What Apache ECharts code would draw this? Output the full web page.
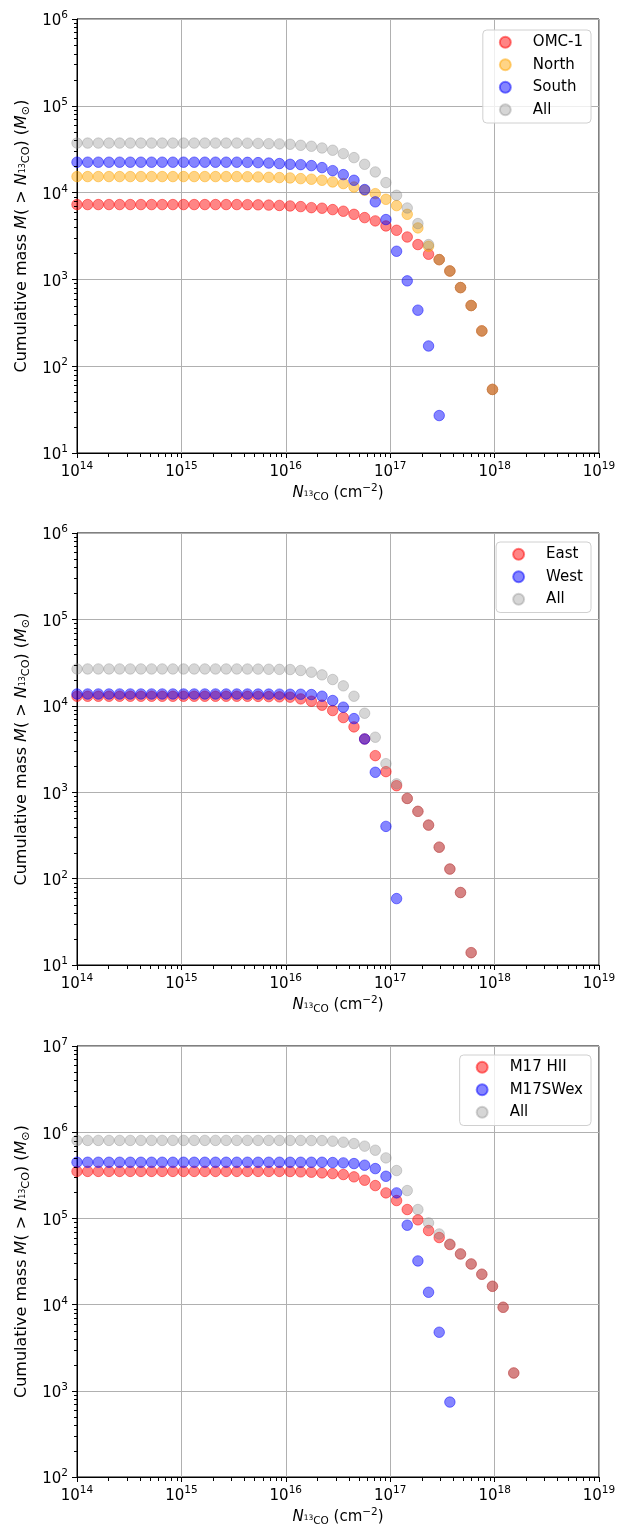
<!DOCTYPE html>
<html><head><meta charset="utf-8">
<script src="https://cdn.jsdelivr.net/npm/echarts/dist/echarts.min.js"></script>
<style>html,body{margin:0;padding:0;background:#fff}#c{width:625px;height:1530px}</style>
</head><body><div id="c"></div><script>
// Column density sampling (cm^-2), log-spaced from 1e14 to 1e19
const columnDensity = [
  1.000e14, 1.265e14, 1.600e14, 2.024e14, 2.560e14, 3.237e14, 4.095e14, 5.179e14, 6.551e14, 8.286e14,
  1.048e15, 1.326e15, 1.677e15, 2.121e15, 2.683e15, 3.393e15, 4.292e15, 5.429e15, 6.866e15, 8.685e15,
  1.099e16, 1.389e16, 1.758e16, 2.223e16, 2.812e16, 3.556e16, 4.498e16, 5.690e16, 7.197e16, 9.103e16,
  1.151e17, 1.456e17, 1.842e17, 2.330e17, 2.947e17, 3.728e17, 4.715e17, 5.964e17, 7.543e17, 9.541e17,
  1.207e18, 1.526e18
];

// Panel 1: Orion (M_sun)
const massOMC1 = [7280,7280,7280,7280,7280,7280,7280,7280,7280,7280,7280,7280,7280,7280,7280,7280,7260,7230,7180,7110,
  7020,6900,6710,6610,6370,6100,5620,5150,4720,4130,3680,3080,2520,1950,1690,1250,805,500,255,54];
const massNorth = [15300,15300,15300,15300,15300,15300,15300,15300,15300,15300,15300,15300,15300,15300,15300,15300,15250,15150,15000,14900,
  14760,14490,14260,13870,13270,12700,11610,10640,9730,8370,7080,5620,3920,2410,1690,1250,805,500,255,54];
const massSouth = [22400,22400,22400,22400,22400,22400,22400,22400,22400,22400,22400,22400,22400,22400,22400,22400,22300,22150,21900,21600,
  21180,20990,20460,19410,17910,16110,13870,10840,7820,4890,2110,962,442,171,27];
const massAll1 = [37200,37200,37200,37200,37200,37200,37200,37200,37200,37200,37200,37200,37200,37200,37200,37200,37100,36900,36600,36400,
  36060,35080,34200,32660,30760,28120,25290,21180,17300,13030,9310,6650,4400,2520,1690,1250,805,500,255,54];

// Panel 2
const massEast = [12900,12900,12900,12900,12900,12900,12900,12900,12900,12900,12900,12900,12900,12900,12900,12900,12880,12850,12780,12700,
  12590,12020,11300,10160,8810,7310,5700,4130,2650,1730,1190,847,600,416,231,129,69,13.9];
const massWest = [13700,13700,13700,13700,13700,13700,13700,13700,13700,13700,13700,13700,13700,13700,13700,13700,13690,13680,13660,13640,
  13610,13610,13490,12910,11510,9640,7110,4130,1700,402,58.7];
const massAll2 = [26700,26700,26700,26700,26700,26700,26700,26700,26700,26700,26700,26700,26700,26700,26700,26700,26650,26600,26500,26400,
  26300,25640,24490,22800,20140,17020,12910,8200,4330,2140,1250,847,600,416,231,129,69,13.9];

// Panel 3: M17
const massHII = [351000,351000,351000,351000,351000,351000,351000,351000,351000,351000,351000,351000,351000,351000,351000,351000,351000,351000,351000,351000,
  350000,346700,343600,337300,331100,322800,303400,277300,240400,197700,161100,126800,96200,72300,60000,49700,38700,29600,22500,16300,9310,1610];
const massSWex = [448000,448000,448000,448000,448000,448000,448000,448000,448000,448000,448000,448000,448000,448000,448000,448000,448000,448000,448000,448000,
  448000,448000,448000,448000,444600,440600,432500,414000,378400,308300,197700,83400,32100,13900,4780,740];
const massAll3 = [803000,803000,803000,803000,803000,803000,803000,803000,803000,803000,803000,803000,803000,803000,803000,803000,803000,803000,803000,803000,
  803000,803000,800000,800000,787000,765600,738000,688700,618000,503500,358900,210400,126800,88700,66000,50400,38700,29600,22500,16300,9310,1610];

const F = 'DejaVu Sans';
const RED = 'rgba(255,0,0,0.6)', ORANGE = 'rgba(255,165,0,0.6)', BLUE = 'rgba(0,0,255,0.6)', GRAY = 'rgba(128,128,128,0.4)';

const panels = [
  {top: 19, height: 434, yMin: 1, yMax: 6, legendTop: 30,
   series: [['OMC-1', massOMC1, RED], ['North', massNorth, ORANGE], ['South', massSouth, BLUE], ['All', massAll1, GRAY]]},
  {top: 533, height: 432, yMin: 1, yMax: 6, legendTop: 542,
   series: [['East', massEast, RED], ['West', massWest, BLUE], ['All', massAll2, GRAY]]},
  {top: 1046, height: 431, yMin: 2, yMax: 7, legendTop: 1055,
   series: [['M17 HII', massHII, RED], ['M17SWex', massSWex, BLUE], ['All', massAll3, GRAY]]}
];

function powLabel(v) {
  const e = Math.round(Math.log10(v));
  return '{b|10}{s|' + e + '}';
}
const labelRich = {
  b: {fontSize: 15, fontFamily: F, color: '#000', padding: [5, 0, 0, 0]},
  s: {fontSize: 10.5, fontFamily: F, color: '#000', padding: [0, 0, 7, 0]}
};
const xNameRich = {
  it: {fontSize: 15, fontFamily: F, fontStyle: 'italic', color: '#000'},
  sub: {fontSize: 10.5, fontFamily: F, color: '#000', padding: [8, 0, 0, 0]},
  ss: {fontSize: 7.5, fontFamily: F, color: '#000', padding: [2, 0, 0, 0]},
  sup: {fontSize: 10.5, fontFamily: F, color: '#000', padding: [0, 0, 9, 0]}
};
const yNameRich = {
  it: {fontSize: 16, fontFamily: F, fontStyle: 'italic', color: '#000'},
  sub: {fontSize: 11.2, fontFamily: F, color: '#000', padding: [8, 0, 0, 0]},
  ss: {fontSize: 8, fontFamily: F, color: '#000', padding: [2, 0, 0, 0]}
};

const grid = [], xAxis = [], yAxis = [], series = [], legend = [];
panels.forEach((p, i) => {
  grid.push({left: 77, top: p.top, width: 522, height: p.height, show: true, borderColor: '#000', borderWidth: 1, backgroundColor: 'transparent'});
  xAxis.push({
    type: 'log', logBase: 10, gridIndex: i, min: 1e14, max: 1e19, splitNumber: 5,
    axisLine: {show: true, lineStyle: {color: '#000', width: 1}},
    axisTick: {show: true, inside: false, length: 5, lineStyle: {color: '#000', width: 1}},
    axisLabel: {formatter: powLabel, margin: 7, rich: labelRich, showMinLabel: true, showMaxLabel: true},
    splitLine: {show: true, lineStyle: {color: '#b0b0b0', width: 1}},
    name: '{it|N}{ss|13}{sub|CO} (cm{sup|\u22122})', nameLocation: 'middle', nameGap: 30,
    nameTextStyle: {fontSize: 15, fontFamily: F, color: '#000', rich: xNameRich}
  });
  yAxis.push({
    type: 'log', logBase: 10, gridIndex: i, min: Math.pow(10, p.yMin), max: Math.pow(10, p.yMax), splitNumber: 5,
    axisLine: {show: true, lineStyle: {color: '#000', width: 1}},
    axisTick: {show: true, inside: false, length: 5, lineStyle: {color: '#000', width: 1}},
    axisLabel: {formatter: powLabel, margin: 9, rich: labelRich, showMinLabel: true, showMaxLabel: true},
    splitLine: {show: true, lineStyle: {color: '#b0b0b0', width: 1}},
    name: 'Cumulative mass {it|M}( > {it|N}{ss|13}{sub|CO}) ({it|M}{sub|\u2299})',
    nameLocation: 'middle', nameRotate: 90, nameGap: 44,
    nameTextStyle: {fontSize: 16, fontFamily: F, color: '#000', rich: yNameRich}
  });
  p.series.forEach(s => {
    series.push({
      type: 'scatter', name: s[0], xAxisIndex: i, yAxisIndex: i,
      symbol: 'circle', symbolSize: 10.5,
      itemStyle: {color: s[2], borderColor: s[2], borderWidth: 1},
      emphasis: {disabled: true},
      data: s[1].map((m, k) => [columnDensity[k], m])
    });
  });
  // log minor ticks (2..9 x 10^n) placed through the axes' own scales
  const minor = [];
  for (let e = 14; e < 19; e++) for (let m = 2; m <= 9; m++) minor.push([m * Math.pow(10, e), Math.pow(10, p.yMin), 0]);
  for (let e = p.yMin; e < p.yMax; e++) for (let m = 2; m <= 9; m++) minor.push([1e14, m * Math.pow(10, e), 1]);
  series.push({
    type: 'custom', name: 'minor' + i, xAxisIndex: i, yAxisIndex: i, silent: true, clip: false, z: 5,
    encode: {x: 0, y: 1},
    renderItem: (params, api) => {
      const c = api.coord([api.value(0), api.value(1)]);
      const x = Math.round(c[0]) + 0.5, y = Math.round(c[1]) + 0.5;
      const shape = api.value(2) === 0 ? {x1: x, y1: y, x2: x, y2: y + 3.5}
                                        : {x1: x - 3.5, y1: y, x2: x, y2: y};
      return {type: 'line', shape: shape, style: {stroke: '#000', lineWidth: 1}};
    },
    data: minor
  });
  legend.push({
    data: p.series.map(s => s[0]), orient: 'vertical', right: 34, top: p.legendTop,
    icon: 'circle', itemWidth: 11, itemHeight: 11, itemGap: 0,
    padding: [1, 8, 2, 16], borderColor: '#d0d0d0', borderWidth: 1, borderRadius: 4,
    backgroundColor: 'rgba(255,255,255,0.8)', selectedMode: false,
    textStyle: {fontSize: 15, fontFamily: F, color: '#000', lineHeight: 22.5, padding: [0, 0, 0, 17]}
  });
});

const chart = echarts.init(document.getElementById('c'), null, {renderer: 'canvas'});
chart.setOption({animation: false, backgroundColor: '#fff', grid, xAxis, yAxis, series, legend, tooltip: {show: false}});
</script></body></html>
